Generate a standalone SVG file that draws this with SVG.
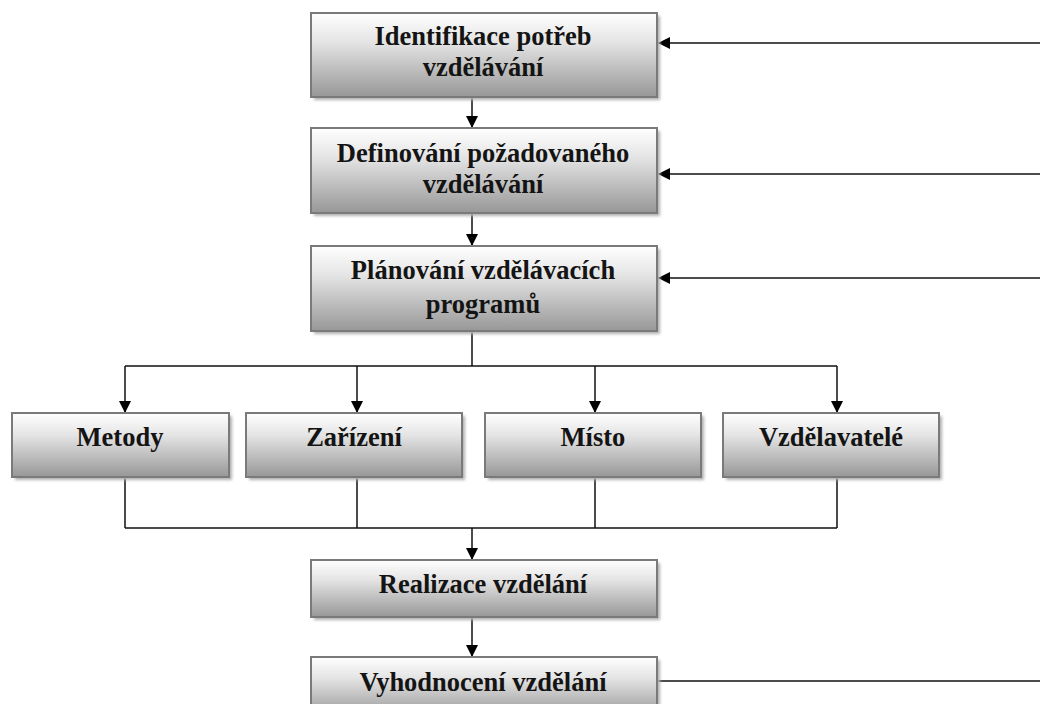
<svg xmlns="http://www.w3.org/2000/svg" width="1040" height="704" viewBox="0 0 1040 704">
<defs>
<linearGradient id="g" x1="0" y1="0" x2="0" y2="1">
<stop offset="0" stop-color="#ffffff"/>
<stop offset="0.35" stop-color="#e4e4e4"/>
<stop offset="1" stop-color="#979797"/>
</linearGradient>
<filter id="sh" x="-5%" y="-10%" width="115%" height="130%">
<feGaussianBlur stdDeviation="1.5"/>
</filter>
<marker id="ah" viewBox="0 0 12 12" refX="12" refY="6" markerWidth="12" markerHeight="12" markerUnits="userSpaceOnUse" orient="auto">
<path d="M0,0 L12,6 L0,12 Z" fill="#000"/>
</marker>
</defs>
<style>
.box{fill:url(#g);stroke:#7a7a7a;stroke-width:2}
.shadow{fill:#b0b0b0;filter:url(#sh)}
.t{font-family:"Liberation Serif","Times New Roman",serif;font-weight:bold;font-size:26.5px;fill:#141414;text-anchor:middle}
.c{fill:none;stroke:#111;stroke-width:1.5}
.a{fill:none;stroke:#111;stroke-width:1.5;marker-end:url(#ah)}
</style>
<rect width="1040" height="704" fill="#fff"/>
<g id="connectors">
<line class="a" x1="472" y1="97" x2="472" y2="128"/>
<line class="a" x1="472" y1="213" x2="472" y2="246"/>
<line class="a" x1="1040" y1="43" x2="658" y2="43"/>
<line class="a" x1="1040" y1="174" x2="658" y2="174"/>
<line class="a" x1="1040" y1="278" x2="658" y2="278"/>
<path class="c" d="M472,331 V366 M125,366 H837"/>
<line class="a" x1="125" y1="366" x2="125" y2="413"/>
<line class="a" x1="357" y1="366" x2="357" y2="413"/>
<line class="a" x1="595" y1="366" x2="595" y2="413"/>
<line class="a" x1="837" y1="366" x2="837" y2="413"/>
<path class="c" d="M125,477 V528 M357,477 V528 M595,477 V528 M837,477 V528 M125,528 H837"/>
<line class="a" x1="472" y1="528" x2="472" y2="560"/>
<line class="a" x1="472" y1="617" x2="472" y2="657"/>
<line class="c" x1="657" y1="681" x2="1040" y2="681"/>
</g>
<g id="n1">
<rect class="shadow" x="314" y="16" width="346" height="84"/>
<rect class="box" x="311" y="13" width="346" height="84"/>
<text class="t" x="483" y="45">Identifikace potřeb</text>
<text class="t" x="483" y="76">vzdělávání</text>
</g>
<g id="n2">
<rect class="shadow" x="314" y="131" width="346" height="85"/>
<rect class="box" x="311" y="128" width="346" height="85"/>
<text class="t" x="483" y="162">Definování požadovaného</text>
<text class="t" x="483" y="193">vzdělávání</text>
</g>
<g id="n3">
<rect class="shadow" x="314" y="249" width="346" height="85"/>
<rect class="box" x="311" y="246" width="346" height="85"/>
<text class="t" x="483" y="279">Plánování vzdělávacích</text>
<text class="t" x="483" y="313">programů</text>
</g>
<g id="n4">
<rect class="shadow" x="15" y="416" width="217" height="64"/>
<rect class="box" x="12" y="413" width="217" height="64"/>
<text class="t" x="120" y="446">Metody</text>
</g>
<g id="n5">
<rect class="shadow" x="249" y="416" width="216" height="64"/>
<rect class="box" x="246" y="413" width="216" height="64"/>
<text class="t" x="354" y="446">Zařízení</text>
</g>
<g id="n6">
<rect class="shadow" x="488" y="416" width="216" height="64"/>
<rect class="box" x="485" y="413" width="216" height="64"/>
<text class="t" x="593" y="446">Místo</text>
</g>
<g id="n7">
<rect class="shadow" x="726" y="416" width="216" height="64"/>
<rect class="box" x="723" y="413" width="216" height="64"/>
<text class="t" x="831" y="446">Vzdělavatelé</text>
</g>
<g id="n8">
<rect class="shadow" x="314" y="563" width="346" height="57"/>
<rect class="box" x="311" y="560" width="346" height="57"/>
<text class="t" x="483" y="593">Realizace vzdělání</text>
</g>
<g id="n9">
<rect class="shadow" x="314" y="660" width="346" height="60"/>
<rect class="box" x="311" y="657" width="346" height="60"/>
<text class="t" x="483" y="691">Vyhodnocení vzdělání</text>
</g>
</svg>
